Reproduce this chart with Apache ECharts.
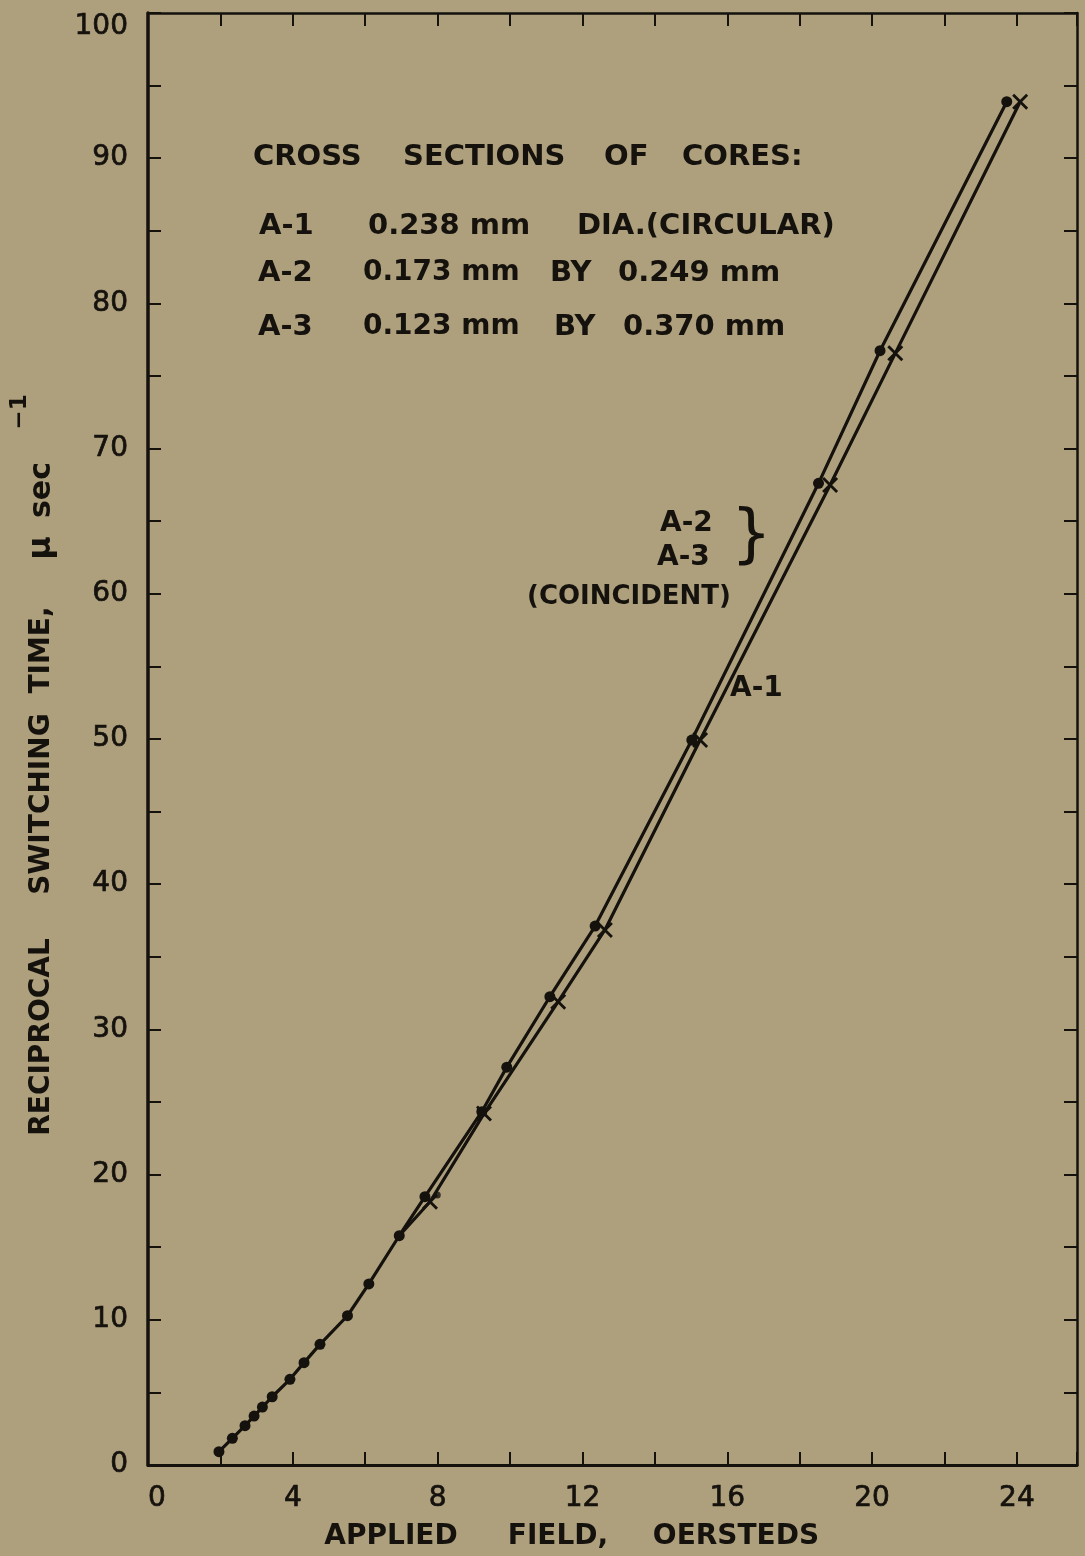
<!DOCTYPE html>
<html>
<head>
<meta charset="utf-8">
<script src="https://cdn.jsdelivr.net/npm/echarts@6/dist/echarts.min.js"></script>
<style>
  html, body { margin: 0; padding: 0; background: #aea07d; }
  #chart { width: 1085px; height: 1556px; }
</style>
</head>
<body>
<div id="chart"></div>
<script>
// Reciprocal switching time (µs⁻¹) against applied field (Oe) for three core cross sections.

// Core A-1 (circular section), dotted points
const a1Field = [1.96, 2.33, 2.68, 2.93, 3.16, 3.43, 3.92, 4.31, 4.75, 5.51, 6.10, 6.94, 7.65, 9.22, 9.91, 11.10, 12.35, 15.02, 18.52, 20.22, 23.72];
const a1Rate  = [0.92, 1.84, 2.71, 3.37, 3.99, 4.70, 5.90, 7.05, 8.31, 10.28, 12.47, 15.79, 18.48, 24.33, 27.40, 32.25, 37.12, 49.93, 67.61, 76.74, 93.89];

// Cores A-2 and A-3 (coincident), crossed points; the first point is shared with A-1
const a23Field = [6.94, 7.79, 9.28, 11.33, 12.62, 15.25, 18.84, 20.64, 24.09];
const a23Rate  = [15.79, 18.13, 24.20, 31.91, 36.85, 49.93, 67.49, 76.56, 93.89];

// Isolated reading next to the 18 µs⁻¹ point
const extraField = [7.99];
const extraRate  = [18.6];

// Tick labels
const xLabelValues = [0, 4, 8, 12, 16, 20, 24];
const yLabelValues = [0, 10, 20, 30, 40, 50, 60, 70, 80, 90, 100];

const INK = '#15120e';
const FONT = '"DejaVu Sans", "Liberation Sans", sans-serif';

const a1Data = a1Field.map((x, i) => [x, a1Rate[i]]);
const a23Data = a23Field.map((x, i) => i === 0 ? { value: [x, a23Rate[i]], symbol: 'none' } : [x, a23Rate[i]]);
const extraData = extraField.map((x, i) => [x, extraRate[i]]);

const crossPath = 'path://M2,0 L8,6 L14,0 L16,2 L10,8 L16,14 L14,16 L8,10 L2,16 L0,14 L6,8 L0,2 Z';

const tickLabelStyle = {
  margin: 20, color: INK, fontSize: 28, fontFamily: FONT,
  textBorderColor: INK, textBorderWidth: 0.7
};

function xAxisBase(position, showLabels, lineWidth) {
  return {
    type: 'value', position: position, min: 0, max: 25.66, interval: 2,
    axisLine: { show: true, onZero: false, lineStyle: { color: INK, width: lineWidth } },
    axisTick: { show: true, inside: true, length: 13, lineStyle: { color: INK, width: 2 } },
    axisLabel: Object.assign({
      show: showLabels, alignMinLabel: 'left',
      formatter: v => xLabelValues.includes(v) ? String(v) : ''
    }, tickLabelStyle),
    splitLine: { show: false }
  };
}
function yAxisBase(position, showLabels, lineWidth) {
  return {
    type: 'value', position: position, min: 0, max: 100, interval: 5,
    axisLine: { show: true, onZero: false, lineStyle: { color: INK, width: lineWidth } },
    axisTick: { show: true, inside: true, length: 13, lineStyle: { color: INK, width: 2 } },
    axisLabel: Object.assign({
      show: showLabels, verticalAlignMaxLabel: 'top',
      formatter: v => yLabelValues.includes(v) ? String(v) : ''
    }, tickLabelStyle),
    splitLine: { show: false }
  };
}

function txt(text, x, y, size, align, extra, weight) {
  return Object.assign({
    type: 'text', x: x, y: y, silent: true,
    style: {
      text: text, fill: INK, font: (weight || 'bold') + ' ' + size + 'px ' + FONT,
      textAlign: align || 'left', align: align || 'left',
      textVerticalAlign: 'middle', verticalAlign: 'middle'
    }
  }, extra || {});
}
function vtxt(text, x, y, size) {
  return txt(text, x, y, size, 'center', { rotation: Math.PI / 2 });
}

const chart = echarts.init(document.getElementById('chart'), null, { renderer: 'canvas' });
chart.setOption({
  animation: false,
  backgroundColor: '#aea07d',
  grid: { left: 148, right: 8, top: 13, bottom: 91, containLabel: false },
  xAxis: [xAxisBase('bottom', true, 3), xAxisBase('top', false, 2.5)],
  yAxis: [yAxisBase('left', true, 3.5), yAxisBase('right', false, 2.5)],
  series: [
    {
      name: 'A-1', type: 'line', data: a1Data, xAxisIndex: 0, yAxisIndex: 0,
      symbol: 'circle', symbolSize: 11, showAllSymbol: true,
      lineStyle: { color: INK, width: 3.2 }, itemStyle: { color: INK }
    },
    {
      name: 'A-2, A-3', type: 'line', data: a23Data, xAxisIndex: 0, yAxisIndex: 0,
      symbol: crossPath, symbolSize: 16, showAllSymbol: true,
      lineStyle: { color: INK, width: 3.2 }, itemStyle: { color: INK }
    },
    {
      name: 'extra', type: 'scatter', data: extraData,
      symbol: 'circle', symbolSize: 7, itemStyle: { color: INK }
    }
  ],
  graphic: [
    // Key of core cross sections
    txt('CROSS', 253, 157, 29), txt('SECTIONS', 403, 157, 29), txt('OF', 604, 157, 29), txt('CORES:', 682, 157, 29),
    txt('A-1', 259, 226, 29), txt('0.238 mm', 368, 226, 29), txt('DIA.(CIRCULAR)', 577, 226, 29),
    txt('A-2', 258, 273, 29), txt('0.173 mm', 363, 273, 28), txt('BY', 550, 273, 29), txt('0.249 mm', 618, 273, 29),
    txt('A-3', 258, 327, 29), txt('0.123 mm', 363, 327, 28), txt('BY', 554, 327, 29), txt('0.370 mm', 623, 327, 29),
    // Curve labels
    txt('A-2', 660, 524, 28), txt('A-3', 657, 558, 28), txt('}', 731, 538, 64, 'left', null, 'normal'),
    txt('(COINCIDENT)', 527, 597, 26),
    txt('A-1', 730, 689, 28),
    // Axis titles
    txt('APPLIED', 391, 1537, 28, 'center'), txt('FIELD,', 558, 1537, 28, 'center'), txt('OERSTEDS', 736, 1537, 28, 'center'),
    vtxt('RECIPROCAL', 42, 1037, 28), vtxt('SWITCHING', 42, 804, 28), vtxt('TIME,', 42, 650, 28),
    vtxt('μ', 42, 548, 32), vtxt('sec', 42, 490, 30), vtxt('−1', 20, 412, 23)
  ]
});
</script>
</body>
</html>
